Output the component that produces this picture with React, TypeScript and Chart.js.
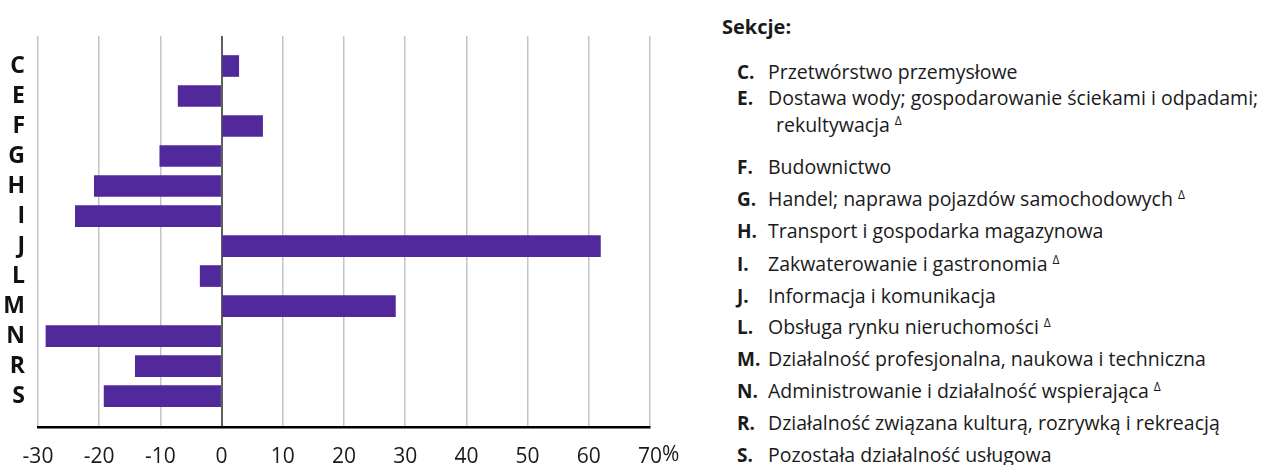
import React, { useEffect, useRef } from "react";
import { Chart, registerables } from "chart.js";

Chart.register(...registerables);

const categories = ["C", "E", "F", "G", "H", "I", "J", "L", "M", "N", "R", "S"];
const values = [2.8, -7.1, 6.7, -10.1, -20.8, -23.9, 61.9, -3.5, 28.4, -28.7, -14.1, -19.2];
const xMin = -30;
const xMax = 70;
const xStep = 10;
const legendTitle = "Sekcje:";
const legendNames = [
  "Przetwórstwo przemysłowe",
  "Dostawa wody; gospodarowanie ściekami i odpadami;",
  "Budownictwo",
  "Handel; naprawa pojazdów samochodowych",
  "Transport i gospodarka magazynowa",
  "Zakwaterowanie i gastronomia",
  "Informacja i komunikacja",
  "Obsługa rynku nieruchomości",
  "Działalność profesjonalna, naukowa i techniczna",
  "Administrowanie i działalność wspierająca",
  "Działalność związana kulturą, rozrywką i rekreacją",
  "Pozostała działalność usługowa",
];
const legendContinuation = ["", "rekultywacja", "", "", "", "", "", "", "", "", "", ""];
const legendMarked = [false, true, false, true, false, true, false, true, false, true, false, false];

const BAR = "#52299b";
const FONT = "'Open Sans', 'Noto Sans', sans-serif";

const percentPlugin = {
  id: "percentSuffix",
  afterDraw(chart: any) {
    const sx = chart.scales.x;
    const ctx = chart.ctx;
    const x = sx.getPixelForValue(xMax);
    ctx.save();
    ctx.font = `21px ${FONT}`;
    const w = ctx.measureText(String(xMax)).width;
    ctx.fillStyle = "#1a1a1a";
    ctx.textAlign = "left";
    ctx.textBaseline = "middle";
    ctx.fillText("%", x + w / 2, 455);
    ctx.restore();
  },
};

export default function App() {
  const ref = useRef<HTMLCanvasElement | null>(null);
  useEffect(() => {
    if (!ref.current) return;
    const chart = new Chart(ref.current, {
      type: "bar",
      data: {
        datasets: [
          {
            data: values.map((v, i) => ({ x: v, y: i })),
            backgroundColor: BAR,
            borderWidth: 0,
            barThickness: 21,
          } as any,
        ],
      },
      options: {
        indexAxis: "y",
        animation: false,
        responsive: false,
        maintainAspectRatio: false,
        layout: { padding: { top: 36, right: 50, left: 0, bottom: 0 } },
        plugins: { legend: { display: false }, tooltip: { enabled: false } },
        scales: {
          x: {
            type: "linear",
            min: xMin,
            max: xMax,
            ticks: {
              stepSize: xStep,
              padding: 17,
              color: "#1a1a1a",
              font: { family: FONT, size: 21 },
              callback: (v: any) => String(v),
            },
            grid: {
              drawTicks: false,
              color: (c: any) => (c.tick && c.tick.value === 0 ? "#5f5f5f" : "#c4c4c4"),
              lineWidth: (c: any) => (c.tick && c.tick.value === 0 ? 2 : 1.5),
            },
            border: { display: true, color: "#000000", width: 2.5 },
            afterFit: (s: any) => {
              s.height = 38;
            },
          },
          y: {
            type: "linear",
            min: -1,
            max: 12.03,
            reverse: true,
            offset: false,
            grid: { display: false, drawTicks: false, offset: false },
            border: { display: false },
            ticks: {
              stepSize: 1,
              autoSkip: false,
              padding: 13,
              color: "#111111",
              font: { family: FONT, size: 23, weight: "bold" },
              callback: (v: any) =>
                Number.isInteger(v) && v >= 0 && v < categories.length ? categories[v] : "",
            },
            afterFit: (s: any) => {
              s.width = 38;
            },
          },
        },
      } as any,
      plugins: [percentPlugin],
    });
    return () => chart.destroy();
  }, []);

  const centers = [72, 98, 167, 199, 231, 264, 296, 327, 359, 391, 423, 455];
  const contCenter = 125;
  const lh = 26;
  const textStyle: React.CSSProperties = {
    position: "absolute",
    whiteSpace: "nowrap",
    fontFamily: FONT,
    fontSize: 19.5,
    lineHeight: `${lh}px`,
    color: "#1a1a1a",
  };
  const sup = (
    <span style={{ fontSize: 12, verticalAlign: "top", position: "relative", top: -4, marginLeft: 5 }}>Δ</span>
  );

  return (
    <div
      style={{
        position: "fixed",
        left: 0,
        top: 0,
        width: 1266,
        height: 465,
        background: "#ffffff",
        overflow: "hidden",
      }}
    >
      <canvas ref={ref} width={700} height={465} style={{ position: "absolute", left: 0, top: 0 }} />
      <div style={{ ...textStyle, left: 722, top: 27 - lh / 2, fontWeight: "bold", fontSize: 20 }}>{legendTitle}</div>
      {categories.map((c, i) => (
        <React.Fragment key={c}>
          <div style={{ ...textStyle, left: 737, top: centers[i] - lh / 2, fontWeight: "bold", fontSize: 19 }}>{c}.</div>
          <div style={{ ...textStyle, left: 768, top: centers[i] - lh / 2 }}>
            {legendNames[i]}
            {legendMarked[i] && !legendContinuation[i] ? sup : null}
          </div>
          {legendContinuation[i] ? (
            <div style={{ ...textStyle, left: 776, top: contCenter - lh / 2 }}>
              {legendContinuation[i]}
              {legendMarked[i] ? sup : null}
            </div>
          ) : null}
        </React.Fragment>
      ))}
    </div>
  );
}
